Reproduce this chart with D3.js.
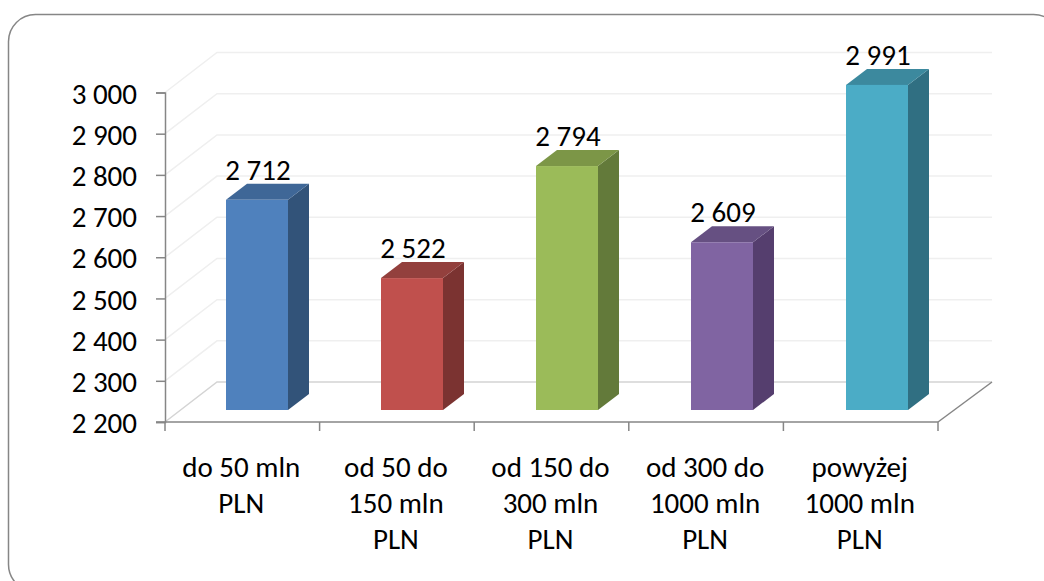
<!DOCTYPE html>
<html>
<head>
<meta charset="utf-8">
<script src="https://cdn.jsdelivr.net/npm/d3@7"></script>
<style>
html, body { margin: 0; padding: 0; background: #fff; }
svg { display: block; }
text { font-family: Carlito, "Open Sans", "Noto Sans", sans-serif; fill: #000; }
</style>
</head>
<body>
<svg id="chart" width="1044" height="581"></svg>
<script>
const categories = [
  ["do 50 mln", "PLN"],
  ["od 50 do", "150 mln", "PLN"],
  ["od 150 do", "300 mln", "PLN"],
  ["od 300 do", "1000 mln", "PLN"],
  ["powyżej", "1000 mln", "PLN"]
];
const values = [2712, 2522, 2794, 2609, 2991];
const frontColors = ["#4f81bd", "#c0504d", "#9bbb59", "#8064a2", "#4bacc6"];
const topColors = ["#3f6797", "#93403d", "#7c9647", "#665082", "#3c899e"];
const sideColors = ["#325379", "#7b3331", "#637a3a", "#553e6e", "#306f82"];
const yTicks = [2200, 2300, 2400, 2500, 2600, 2700, 2800, 2900, 3000];

const svg = d3.select("#chart");
const fmt = v => String(v).replace(/\B(?=(\d{3})+$)/g, " ");
const fontSize = 29;

// chart border, runs past the right and bottom of the picture
svg.append("rect")
  .attr("x", 8.5).attr("y", 14.5).attr("width", 1052).attr("height", 577)
  .attr("rx", 27).attr("fill", "#fff")
  .attr("stroke", "#868686").attr("stroke-width", 1.5);

const left = 165, right = 938, base = 422;
const x = d3.scaleBand().domain(d3.range(values.length)).range([left, right]);
const xBars = d3.scaleBand().domain(d3.range(values.length)).range([left, right + 2]);
const y = d3.scaleLinear().domain([2200, 3000]).range([base, 92.5]);

// offset of the back wall and of the bar depth
const wallDx = 52, wallDy = -40;
const barDx = 21, barDy = -16;
const barWidth = 62;

// back wall gridlines
yTicks.forEach(t => {
  const isFloor = t === 2200;
  svg.append("path")
    .attr("d", `M${left},${y(t)}L${left + wallDx},${y(t) + wallDy}H${right + wallDx + 2}`)
    .attr("fill", "none")
    .attr("stroke", isFloor ? "#d4d4d4" : "#efefef")
    .attr("stroke-width", 1.5);
});

// floor edge at the right
svg.append("path")
  .attr("d", `M${right},${base}L${right + wallDx + 2},${base + wallDy}`)
  .attr("fill", "none").attr("stroke", "#868686").attr("stroke-width", 1.5);

// axes
svg.append("g").attr("transform", `translate(${left},0)`)
  .call(d3.axisLeft(y).tickValues(yTicks).tickSize(9).tickPadding(19).tickFormat(fmt))
  .call(g => g.selectAll("path,line").attr("stroke", "#868686").attr("stroke-width", 1.5))
  .call(g => g.selectAll("text").attr("font-size", fontSize).attr("fill", "#000").attr("dy", "0.37em"));

const xAxis = svg.append("g");
xAxis.append("line")
  .attr("x1", left - 9).attr("x2", right).attr("y1", base).attr("y2", base)
  .attr("stroke", "#868686").attr("stroke-width", 1.5);
d3.range(values.length + 1).forEach(i => {
  const tx = left + x.step() * i;
  xAxis.append("line")
    .attr("x1", tx).attr("x2", tx).attr("y1", base).attr("y2", base + 9)
    .attr("stroke", "#868686").attr("stroke-width", 1.5);
});

// bars
values.forEach((v, i) => {
  const x0 = xBars(i) + 61;
  const x1 = x0 + barWidth;
  const b = base - 12;
  const t = y(v) - 11.3;
  svg.append("polygon")
    .attr("points", [[x1, b], [x1 + barDx, b + barDy], [x1 + barDx, t + barDy], [x1, t]].join(" "))
    .attr("fill", sideColors[i]);
  svg.append("polygon")
    .attr("points", [[x0, t], [x0 + barDx, t + barDy], [x1 + barDx, t + barDy], [x1, t]].join(" "))
    .attr("fill", topColors[i]);
  svg.append("rect")
    .attr("x", x0).attr("y", t).attr("width", barWidth).attr("height", b - t)
    .attr("fill", frontColors[i]);
  svg.append("text")
    .attr("x", x0 + 32).attr("y", t + barDy - 4)
    .attr("text-anchor", "middle").attr("font-size", fontSize)
    .text(fmt(v));
});

// category labels
categories.forEach((lines, i) => {
  lines.forEach((line, k) => {
    svg.append("text")
      .attr("x", x(i) + x.bandwidth() / 2 - 1)
      .attr("y", 477 + k * 36)
      .attr("text-anchor", "middle").attr("font-size", fontSize)
      .text(line);
  });
});
</script>
</body>
</html>
